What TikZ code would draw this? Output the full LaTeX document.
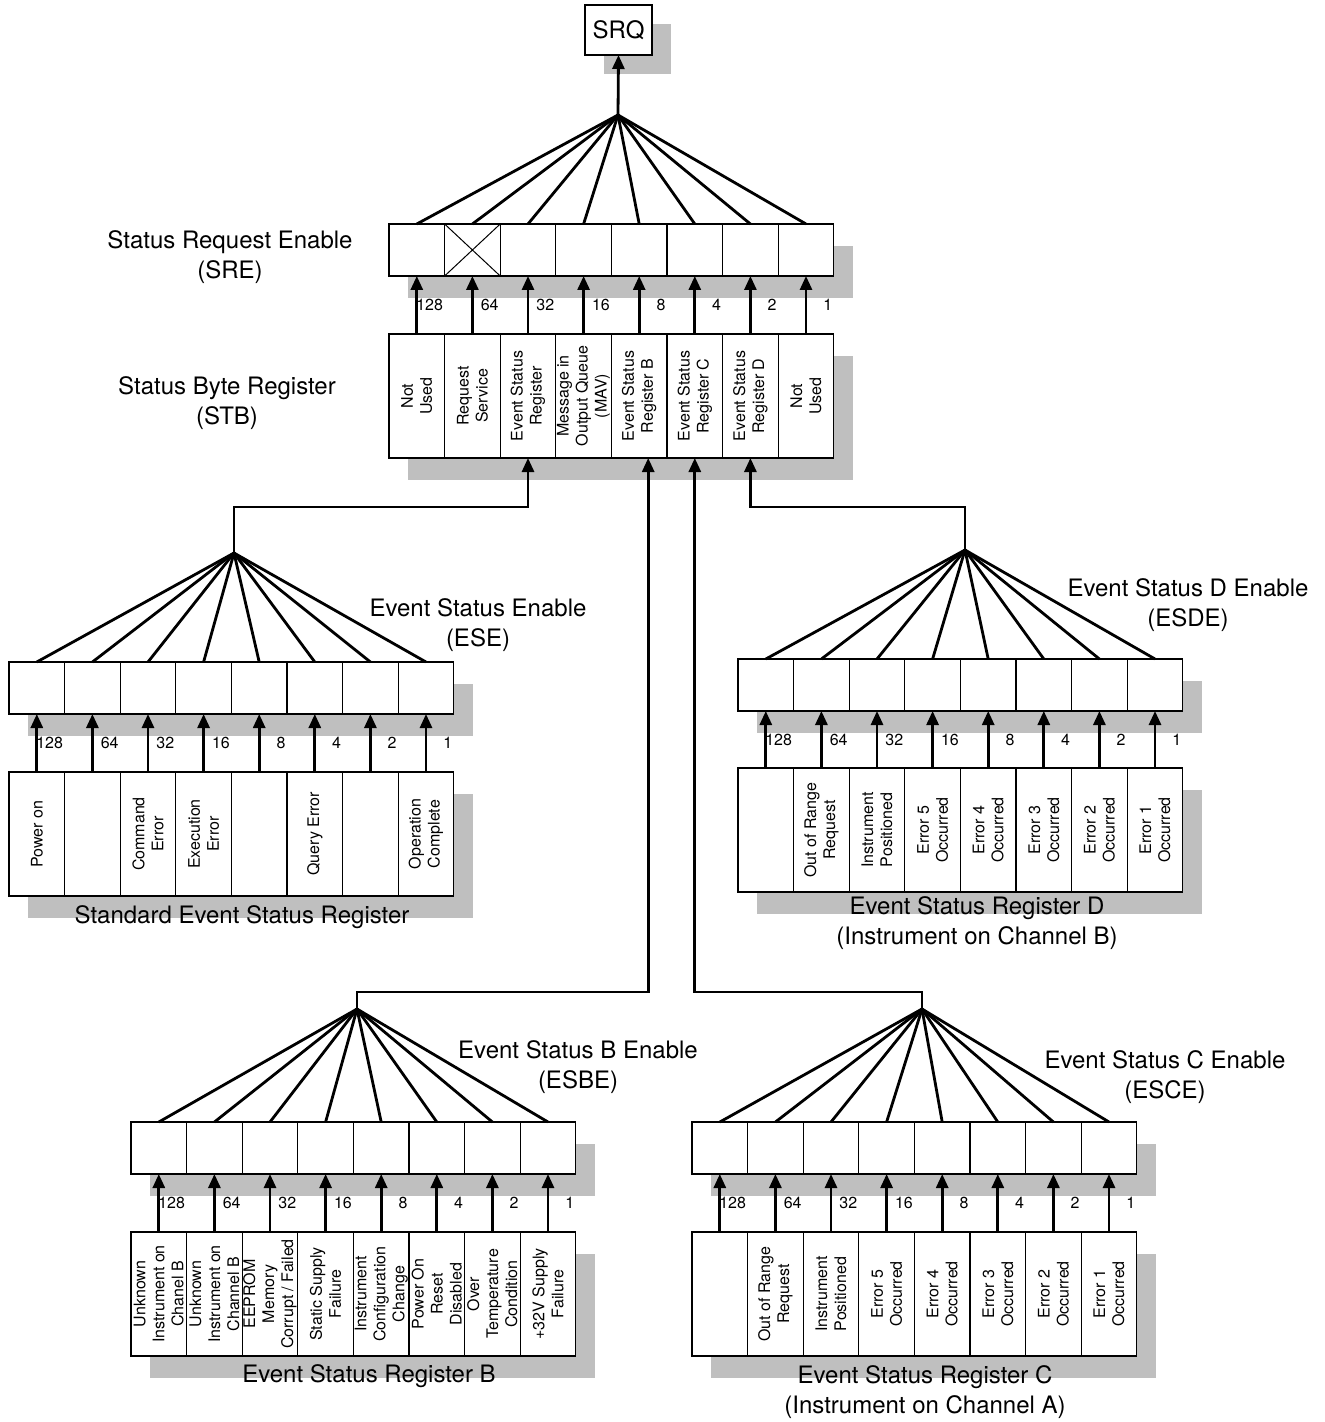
\documentclass[tikz,border=0pt]{standalone}
\usepackage{fontspec}
\setsansfont{TeX Gyre Heros}
\usetikzlibrary{arrows.meta,calc,backgrounds}

\begin{document}
\begin{tikzpicture}[x=0.5pt, y=-0.5pt, font=\sffamily\fontsize{12}{15}\selectfont,
	encell/.style={draw, fill=white, line width=0.6pt, anchor=north west, inner sep=0pt, outer sep=0pt,
		minimum width=27.8pt, minimum height=26pt},
	regcell/.style={encell, minimum height=62pt},
	celltext/.style={rotate=90, align=center, inner sep=0pt, font=\sffamily\fontsize{8}{9.5}\selectfont},
	weightlabel/.style={anchor=east, fill=white, inner sep=0.6pt, font=\sffamily\fontsize{8}{9}\selectfont},
	bitarrow/.style={line width=1.4pt, -{Triangle[length=7pt, width=6pt]}},
	fanline/.style={line width=1.4pt},
	shadowfill/.style={fill=black!25},
	grouplabel/.style={align=center}]
	\useasboundingbox (0,0) rectangle (1325,1422);
	
	%SRQ
	\node[draw, fill=white, line width=0.6pt, anchor=north west, outer sep=0pt,
		minimum width=33.5pt, minimum height=25pt] (srq) at (585,5) {SRQ};
	
	%status byte and its enable
	\foreach \t [count=\i] in {{Not\\Used},{Request\\Service},{Event Status\\Register},
		{Message in\\Output Queue\\(MAV)},{Event Status\\Register B},{Event Status\\Register C},
		{Event Status\\Register D},{Not\\Used}}{
		\node[encell] (sre\i) at ({389+55.6*(\i-1)},224) {};
		\node[regcell] (stb\i) at ({389+55.6*(\i-1)},334) {};
		\node[celltext] (stbt\i) at (stb\i) {\t};
	}
	\draw[line width=0.5pt] (sre2.north west) -- (sre2.south east)
		(sre2.south west) -- (sre2.north east);
	
	%standard event status register
	\foreach \t [count=\i] in {{Power on},{},{Command\\Error},{Execution\\Error},{},
		{Query Error},{},{Operation\\Complete}}{
		\node[encell] (ese\i) at ({9+55.6*(\i-1)},662) {};
		\node[regcell] (sesr\i) at ({9+55.6*(\i-1)},772) {};
		\node[celltext] (sesrt\i) at (sesr\i) {\t};
	}
	
	%register D
	\foreach \t [count=\i] in {{},{Out of Range\\Request},{Instrument\\Positioned},
		{Error 5\\Occurred},{Error 4\\Occurred},{Error 3\\Occurred},{Error 2\\Occurred},
		{Error 1\\Occurred}}{
		\node[encell] (esde\i) at ({738+55.6*(\i-1)},659) {};
		\node[regcell] (esrd\i) at ({738+55.6*(\i-1)},768) {};
		\node[celltext] (esrdt\i) at (esrd\i) {\t};
	}
	
	%register B
	\foreach \t [count=\i] in {{Unknown\\Instrument on\\Chanel B},{Unknown\\Instrument on\\Channel B},
		{EEPROM\\Memory\\Corrupt / Failed},{Static Supply\\Failure},
		{Instrument\\Configuration\\Change},{Power On\\Reset\\Disabled},
		{Over\\Temperature\\Condition},{+32V Supply\\Failure}}{
		\node[encell] (esbe\i) at ({131+55.6*(\i-1)},1122) {};
		\node[regcell] (esrb\i) at ({131+55.6*(\i-1)},1232) {};
		\node[celltext] (esrbt\i) at (esrb\i) {\t};
	}
	
	%register C
	\foreach \t [count=\i] in {{},{Out of Range\\Request},{Instrument\\Positioned},
		{Error 5\\Occurred},{Error 4\\Occurred},{Error 3\\Occurred},{Error 2\\Occurred},
		{Error 1\\Occurred}}{
		\node[encell] (esce\i) at ({692+55.6*(\i-1)},1122) {};
		\node[regcell] (esrc\i) at ({692+55.6*(\i-1)},1232) {};
		\node[celltext] (esrct\i) at (esrc\i) {\t};
	}
	
	%fan points
	\coordinate (srefan) at (618,115);
	\coordinate (esefan) at (234,553);
	\coordinate (esdefan) at (965,550);
	\coordinate (esbefan) at (357,1009);
	\coordinate (escefan) at (922,1009);
	
	%shadows, weights, fans
	\foreach \en/\reg in {sre/stb, ese/sesr, esde/esrd, esbe/esrb, esce/esrc}{
		\begin{scope}[on background layer]
			\fill[shadowfill] ([shift={(19,22)}]\en1.north west) rectangle ([shift={(19,22)}]\en8.south east);
			\fill[shadowfill] ([shift={(19,22)}]\reg1.north west) rectangle ([shift={(19,22)}]\reg8.south east);
		\end{scope}
		\foreach \w [count=\i] in {128,64,32,16,8,4,2,1}{
			\node[weightlabel] (\en w\i) at ($(\en\i.south east)!.5!(\reg\i.north east)$) {\w};
			\draw[bitarrow] (\reg\i.north) -- (\en\i.south);
			\draw[fanline] (\en fan) -- (\en\i.north);
		}
	}
	\begin{scope}[on background layer]
		\fill[shadowfill] ([shift={(19,19)}]srq.north west) rectangle ([shift={(19,19)}]srq.south east);
	\end{scope}
	
	%links
	\draw[bitarrow] (srefan) -- (srq.south);
	\draw[bitarrow] (esefan) -- ++(0,-46) -| (stb3.south);
	\draw[bitarrow] (esdefan) -- ++(0,-43) -| (stb7.south);
	\draw[bitarrow] (esbefan) -- ++(0,-17) -| ([xshift=4.5pt]stb5.south);
	\draw[bitarrow] (escefan) -- ++(0,-17) -| (stb6.south);
	
	%labels
	\node[grouplabel] (srelabel) at (230,257) {Status Request Enable\\(SRE)};
	\node[grouplabel] (stblabel) at (227,403) {Status Byte Register\\(STB)};
	\node[grouplabel] (eselabel) at (478,625) {Event Status Enable\\(ESE)};
	\node[grouplabel] (esdelabel) at (1188,605) {Event Status D Enable\\(ESDE)};
	\node[grouplabel] (esbelabel) at (578,1067) {Event Status B Enable\\(ESBE)};
	\node[grouplabel] (escelabel) at (1165,1077) {Event Status C Enable\\(ESCE)};
	\node[grouplabel] (sesrlabel) at (242,917) {Standard Event Status Register};
	\node[grouplabel] (esrdlabel) at (977,923) {Event Status Register D\\(Instrument on Channel B)};
	\node[grouplabel] (esrblabel) at (369,1376) {Event Status Register B};
	\node[grouplabel] (esrclabel) at (925,1392) {Event Status Register C\\(Instrument on Channel A)};
\end{tikzpicture}
\end{document}
